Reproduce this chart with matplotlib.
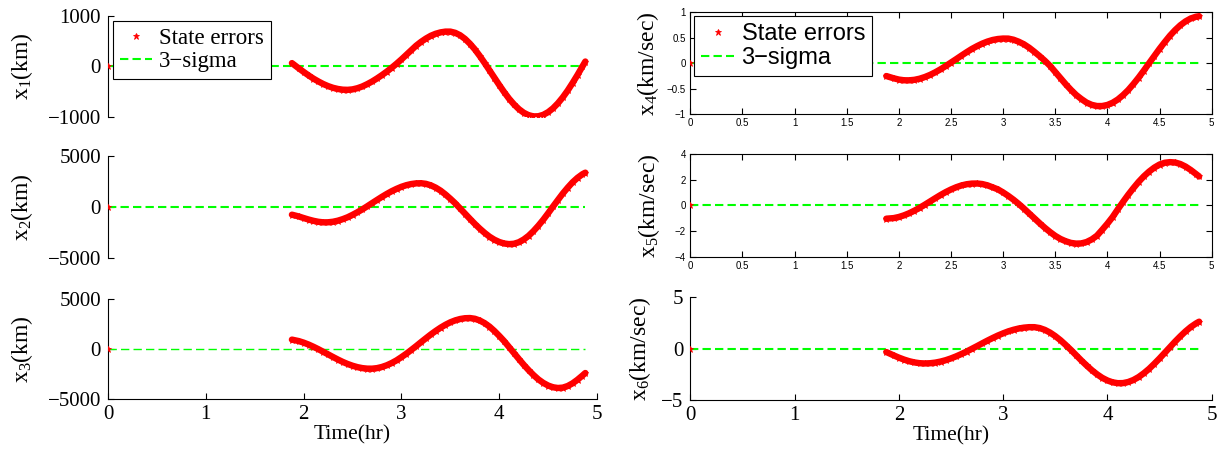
import matplotlib
matplotlib.use("Agg")
import matplotlib.pyplot as plt
from matplotlib.ticker import FuncFormatter

plt.rcParams["font.family"] = "Liberation Serif"
plt.rcParams["mathtext.fontset"] = "custom"
plt.rcParams["mathtext.rm"] = "Liberation Serif"
plt.rcParams["mathtext.it"] = "Liberation Serif:italic"
plt.rcParams["lines.scale_dashes"] = False

# time grid (hr); first sample is the initial point at t = 0
time_hr = [0.0, 1.88, 1.95, 2.0, 2.05, 2.1, 2.15, 2.2, 2.25, 2.3, 2.35, 2.4, 2.45, 2.5,
           2.55, 2.6, 2.65, 2.7, 2.75, 2.8, 2.85, 2.9, 2.95, 3.0, 3.05, 3.1, 3.15, 3.2,
           3.25, 3.3, 3.35, 3.4, 3.45, 3.5, 3.55, 3.6, 3.65, 3.7, 3.75, 3.8, 3.85, 3.9,
           3.95, 4.0, 4.05, 4.1, 4.15, 4.2, 4.25, 4.3, 4.35, 4.4, 4.45, 4.5, 4.55, 4.6,
           4.65, 4.7, 4.75, 4.8, 4.85, 4.88]

# state errors
err_x1 = [0, 67, -36, -107, -175, -238, -294, -344, -386, -419, -442, -456, -459, -450,
          -427, -393, -347, -295, -235, -170, -100, -25, 55, 140, 230, 320, 410, 485,
          550, 605, 645, 672, 687, 687, 663, 615, 543, 449, 338, 209, 70, -75,
          -220, -365, -504, -633, -744, -838, -910, -958, -982, -979, -951, -898, -822, -723,
          -606, -472, -323, -166, 0, 98]
err_x2 = [0, -750, -923, -1077, -1221, -1346, -1442, -1495, -1491, -1437, -1333, -1183, -997, -764,
          -508, -233, 68, 380, 686, 989, 1274, 1539, 1768, 1970, 2127, 2239, 2304, 2318,
          2258, 2112, 1888, 1592, 1220, 803, 357, -146, -650, -1154, -1647, -2103, -2521, -2892,
          -3188, -3411, -3558, -3618, -3583, -3434, -3170, -2809, -2348, -1821, -1241, -607, 48, 686,
          1317, 1888, 2412, 2843, 3193, 3347]
err_x3 = [0, 940, 793, 638, 448, 226, -16, -276, -537, -799, -1053, -1290, -1498, -1673,
          -1813, -1910, -1962, -1965, -1911, -1796, -1627, -1402, -1134, -812, -470, -95, 287, 685,
          1071, 1453, 1806, 2136, 2425, 2672, 2863, 3002, 3080, 3098, 3027, 2854, 2590, 2242,
          1804, 1312, 787, 194, -400, -994, -1575, -2112, -2604, -3042, -3390, -3654, -3827, -3898,
          -3860, -3699, -3429, -3072, -2660, -2400]
err_x4 = [0, -0.25, -0.294, -0.319, -0.333, -0.334, -0.324, -0.302, -0.269, -0.227, -0.176, -0.118, -0.054, 0.014,
          0.081, 0.150, 0.217, 0.281, 0.336, 0.386, 0.426, 0.457, 0.476, 0.485, 0.484, 0.462, 0.423, 0.372,
          0.305, 0.225, 0.14, 0.05, -0.05, -0.17, -0.29, -0.41, -0.52, -0.62, -0.70, -0.77, -0.815, -0.838,
          -0.838, -0.817, -0.774, -0.710, -0.625, -0.525, -0.407, -0.279, -0.142, 0.001, 0.142, 0.283, 0.415, 0.541,
          0.651, 0.746, 0.822, 0.879, 0.913, 0.923]
err_x5 = [0, -1.03, -0.984, -0.897, -0.767, -0.600, -0.400, -0.177, 0.066, 0.319, 0.572, 0.820, 1.049, 1.251,
          1.426, 1.565, 1.661, 1.712, 1.719, 1.677, 1.575, 1.419, 1.26, 1.02, 0.75, 0.45, 0.12, -0.24,
          -0.62, -1.00, -1.38, -1.74, -2.07, -2.37, -2.61, -2.79, -2.92, -2.975, -2.962, -2.853, -2.651, -2.358,
          -1.90, -1.42, -0.90, -0.30, 0.28, 0.84, 1.36, 1.85, 2.28, 2.65, 2.96, 3.20, 3.34, 3.388,
          3.36, 3.24, 3.04, 2.77, 2.46, 2.27]
err_x6 = [0, -0.33, -0.654, -0.872, -1.063, -1.224, -1.341, -1.416, -1.440, -1.419, -1.358, -1.257, -1.122, -0.950,
          -0.750, -0.523, -0.281, -0.017, 0.246, 0.518, 0.785, 1.038, 1.278, 1.491, 1.684, 1.839, 1.963, 2.047,
          2.093, 2.092, 2.007, 1.829, 1.566, 1.223, 0.822, 0.363, -0.122, -0.635, -1.148, -1.633, -2.092, -2.493,
          -2.837, -3.099, -3.278, -3.362, -3.353, -3.246, -3.050, -2.762, -2.393, -1.966, -1.475, -0.956, -0.407, 0.142,
          0.693, 1.206, 1.687, 2.110, 2.455, 2.627]

# 3-sigma bound
sigma_t = [0.0, 4.88]
sigma_val = [0.0, 0.0]

ylabels = ["x$_{1}$(km)", "x$_{2}$(km)", "x$_{3}$(km)",
           "x$_{4}$(km/sec)", "x$_{5}$(km/sec)", "x$_{6}$(km/sec)"]
ylims = [(-1000, 1000), (-5000, 5000), (-5000, 5000), (-1, 1), (-4, 4), (-5, 5)]
yticks = [[-1000, 0, 1000], [-5000, 0, 5000], [-5000, 0, 5000],
          [-1, -0.5, 0, 0.5, 1], [-4, -2, 0, 2, 4], [-5, 0, 5]]
xticks_int = [0, 1, 2, 3, 4, 5]
xticks_half = [0, 0.5, 1, 1.5, 2, 2.5, 3, 3.5, 4, 4.5, 5]
series = [err_x1, err_x2, err_x3, err_x4, err_x5, err_x6]

RED = "#ff0000"
GREEN = "#00ff00"

fmt = FuncFormatter(lambda v, p: f"{v:g}".replace("-", "\u2212"))

fig = plt.figure(figsize=(12.25, 4.51), dpi=100)
rects = [
    [0.0882, 0.7399, 0.3992, 0.2253],
    [0.0882, 0.4273, 0.3992, 0.2275],
    [0.0882, 0.1153, 0.3992, 0.2217],
    [0.5635, 0.7466, 0.4256, 0.2262],
    [0.5635, 0.4308, 0.4256, 0.2271],
    [0.5635, 0.1131, 0.4256, 0.2277],
]
label_x = [-0.149, -0.149, -0.149, -0.057, -0.055, -0.072]
sigma_lw = [1.5, 1.5, 1.0, 1.5, 1.5, 1.5]

axes = []
for i, r in enumerate(rects):
    ax = fig.add_axes(r)
    axes.append(ax)
    vals = series[i]
    ax.plot(sigma_t, sigma_val, color=GREEN, lw=sigma_lw[i], dashes=(6, 3), label="3\u2212sigma", zorder=2)
    ax.plot(time_hr[1:], vals[1:], "-", color=RED, lw=4.6, solid_capstyle="round", zorder=3)
    ax.plot(time_hr, vals, "*", color=RED, ms=4.5, mew=0.6, label="State errors", zorder=3)
    ax.set_xlim(0, 5)
    ax.set_ylim(*ylims[i])
    ax.set_yticks(yticks[i])
    ax.yaxis.set_major_formatter(fmt)
    ax.xaxis.set_major_formatter(fmt)
    for s in ax.spines.values():
        s.set_linewidth(0.8)
    ax.set_ylabel(ylabels[i], fontsize=17)
    ax.yaxis.set_label_coords(label_x[i], 0.5)

# left column and bottom-right: MATLAB "box off" look, serif ticks
for i in [0, 1, 2, 5]:
    ax = axes[i]
    ax.spines["top"].set_visible(False)
    ax.spines["right"].set_visible(False)
    ax.tick_params(axis="y", direction="in", length=4, pad=5, labelsize=15)
    if i in (0, 1):
        ax.spines["bottom"].set_visible(False)
        ax.set_xticks([])
    else:
        ax.set_xticks(xticks_int)
        ax.tick_params(axis="x", direction="in", length=4, pad=4, labelsize=15)
        ax.set_xlabel("Time(hr)", fontsize=15.5, labelpad=1)

# right column top two: boxed, small sans tick labels
for i in [3, 4]:
    ax = axes[i]
    ax.set_xticks(xticks_half)
    ax.tick_params(axis="both", which="both", direction="in", length=4, pad=3,
                   labelsize=7, top=True, right=True, labelfontfamily="Liberation Sans")

h, l = axes[0].get_legend_handles_labels()
order = [1, 0]
leg1 = axes[0].legend([h[k] for k in order], [l[k] for k in order], loc="upper left",
                      bbox_to_anchor=(0.0102, 0.948), borderaxespad=0, fontsize=16.5,
                      fancybox=False, framealpha=1, edgecolor="black", handlelength=1.4,
                      handletextpad=0.3, borderpad=0.3, labelspacing=0.1, numpoints=1)
leg1.get_frame().set_linewidth(0.8)

h, l = axes[3].get_legend_handles_labels()
leg4 = axes[3].legend([h[k] for k in order], [l[k] for k in order], loc="upper left",
                      bbox_to_anchor=(0.0077, 0.964), borderaxespad=0,
                      prop={"family": "Liberation Sans", "size": 17},
                      fancybox=False, framealpha=1, edgecolor="black", handlelength=1.4,
                      handletextpad=0.3, borderpad=0.3, labelspacing=0.1, numpoints=1)
leg4.get_frame().set_linewidth(0.8)

fig.savefig("out.png", dpi=100, facecolor="white")
